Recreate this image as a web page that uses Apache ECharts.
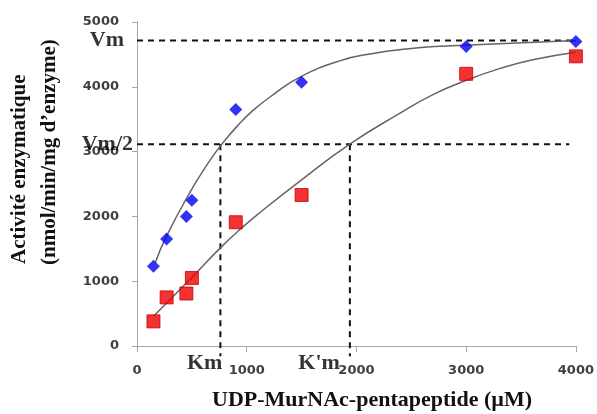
<!DOCTYPE html>
<html>
<head>
<meta charset="utf-8">
<script src="https://cdn.jsdelivr.net/npm/echarts@6/dist/echarts.min.js"></script>
<style>
    html, body { margin: 0; padding: 0; background: #fff; }
    #murnac-chart { width: 597px; height: 414px; }
</style>
</head>
<body>
<div id="murnac-chart"></div>
<script>
    // concentrations de substrat (µM)
    var substrate = [150, 270, 450, 500, 900, 1500, 3000, 4000];
    // activité enzymatique mesurée
    var activityBlue = [1230, 1650, 2000, 2250, 3650, 4070, 4620, 4700];
    var activityRed = [380, 750, 810, 1050, 1910, 2330, 4200, 4470];

    // courbes d'ajustement
    var blueFitX = [166, 257, 485, 636, 773, 939, 1060, 1242, 1485, 1848, 2151, 2455, 2757, 3303, 4000];
    var blueFitY = [1280, 1654, 2380, 2790, 3115, 3440, 3640, 3880, 4150, 4400, 4515, 4585, 4625, 4665, 4715];
    var redFitX = [151, 394, 515, 757, 939, 1121, 1485, 1939, 2394, 2697, 3000, 3303, 3606, 4000];
    var redFitY = [458, 875, 1085, 1510, 1800, 2060, 2545, 3115, 3590, 3880, 4100, 4280, 4418, 4535];

    // repères Vm, Vm/2, Km, K'm
    var Vm = 4715, halfVm = 3115, Km = 760, Kpm = 1940;
    var vmLineEnd = 4000, halfVmLineEnd = 3940, kmLineBottom = -160;
    var refLabels = ['Vm', 'Vm/2', 'Km', "K'm"];

    var xTitle = 'UDP-MurNAc-pentapeptide (µM)';
    var yTitle = ['Activité enzymatique', '(nmol/min/mg d’enzyme)'];

    function pairs(xs, ys) {
        return xs.map(function (x, i) { return [x, ys[i]]; });
    }

    var dashStyle = { color: '#111', width: 2, type: [6, 5] };

    function dashLine(data) {
        return {
            type: 'line', data: data, showSymbol: false, symbol: 'none',
            clip: false, silent: true, z: 1,
            lineStyle: dashStyle
        };
    }

    function fitLine(data) {
        return {
            type: 'line', data: data, showSymbol: false, symbol: 'none',
            smooth: 0.5, silent: true, z: 2,
            lineStyle: { color: '#646464', width: 1.5 }
        };
    }

    var axisGray = '#a6a6a6';
    var tickLabel = {
        fontFamily: 'DejaVu Sans', fontWeight: 'bold', fontSize: 13, color: '#404040', margin: 18,
        formatter: function (v) { return String(v); }
    };
    var titleFont = { fontFamily: 'Liberation Serif', fontWeight: 'bold', fill: '#111' };

    var chart = echarts.init(document.getElementById('murnac-chart'));
    chart.setOption({
        animation: false,
        grid: { left: 137, right: 20, top: 22, bottom: 68 },
        xAxis: {
            type: 'value', min: 0, max: 4000, interval: 1000,
            axisLine: { lineStyle: { color: axisGray } },
            axisTick: { show: true, length: 6, lineStyle: { color: axisGray } },
            axisLabel: tickLabel,
            splitLine: { show: false }
        },
        yAxis: {
            type: 'value', min: 0, max: 5000, interval: 1000,
            axisLine: { show: true, lineStyle: { color: axisGray } },
            axisTick: { show: true, length: 5, lineStyle: { color: axisGray } },
            axisLabel: tickLabel,
            splitLine: { show: false }
        },
        graphic: [
            { type: 'text', x: 372, y: 400, style: Object.assign({ text: xTitle, fontSize: 22, align: 'center', verticalAlign: 'middle' }, titleFont) },
            { type: 'text', x: 20, y: 264, rotation: Math.PI / 2, style: Object.assign({ text: yTitle[0], fontSize: 21, align: 'left', verticalAlign: 'middle' }, titleFont) },
            { type: 'text', x: 50, y: 265, rotation: Math.PI / 2, style: Object.assign({ text: yTitle[1], fontSize: 21, align: 'left', verticalAlign: 'middle' }, titleFont) }
        ],
        series: [
            dashLine([[0, Vm], [vmLineEnd, Vm]]),
            dashLine([[0, halfVm], [halfVmLineEnd, halfVm]]),
            dashLine([[Km, halfVm], [Km, kmLineBottom]]),
            dashLine([[Kpm, halfVm], [Kpm, kmLineBottom]]),
            fitLine(pairs(blueFitX, blueFitY)),
            fitLine(pairs(redFitX, redFitY)),
            {
                type: 'scatter', symbol: 'diamond', symbolSize: 13, z: 3,
                itemStyle: { color: '#0000f0' },
                data: pairs(substrate, activityBlue)
            },
            {
                type: 'scatter', symbol: 'rect', symbolSize: 13, z: 4,
                itemStyle: { color: '#f00000', borderColor: '#c80000', borderWidth: 1 },
                data: pairs(substrate, activityRed)
            },
            {
                type: 'scatter', symbolSize: 0, silent: true, z: 5,
                label: {
                    show: true, fontSize: 22, fontFamily: 'Liberation Serif', fontWeight: 'bold', color: '#000',
                    formatter: function (p) { return p.data.name; }
                },
                data: [
                    { name: refLabels[0], value: [0, Vm], label: { position: 'left', distance: 13 } },
                    { name: refLabels[1], value: [0, halfVm], label: { position: 'left', distance: 4 } },
                    { name: refLabels[2], value: [Km, 0], label: { position: 'left', distance: -2, offset: [0, 17] } },
                    { name: refLabels[3], value: [Kpm, 0], label: { position: 'left', distance: 10, offset: [0, 17] } }
                ]
            }
        ]
    });
</script>
</body>
</html>
